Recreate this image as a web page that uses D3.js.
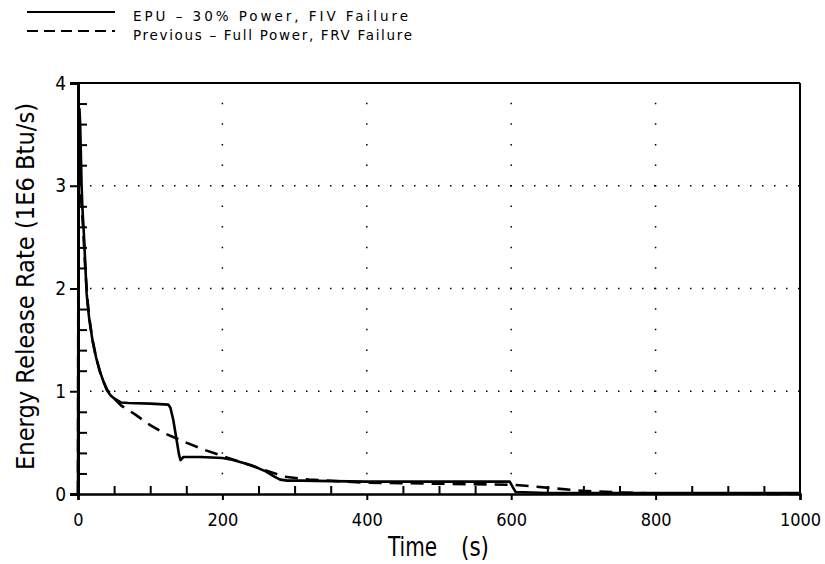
<!DOCTYPE html>
<html>
<head>
<meta charset="utf-8">
<script src="https://cdn.jsdelivr.net/npm/d3@7"></script>
<style>
  body{margin:0;background:#fff;}
</style>
</head>
<body>
<svg id="chart"></svg>
<script>
// EPU - 30% power, FIV failure (solid)
var epuTime=[0,0.5,1,2,3,4,5,6,8,10,12,14,16,20,25,30,35,40,45,50,60,70,100,125,128,132,136,140,142,146,170,200,215,240,260,272,280,290,310,350,400,500,598,602,606,650,700,1000];
var epuRate=[0,2.0,3.3,3.75,3.6,3.3,3.0,2.8,2.55,2.25,1.95,1.8,1.68,1.5,1.33,1.2,1.1,1.01,0.96,0.93,0.89,0.885,0.88,0.87,0.84,0.72,0.55,0.38,0.33,0.36,0.36,0.35,0.33,0.28,0.22,0.17,0.14,0.13,0.13,0.125,0.12,0.12,0.12,0.07,0.02,0.01,0.01,0.01];
// Previous - full power, FRV failure (dashed)
var prevTime=[0,0.5,1,2,3,5,7,10,13,16,20,25,30,35,40,50,60,80,100,120,150,175,200,230,260,285,320,400,500,600,620,660,700,750,800,1000];
var prevRate=[0,2.5,3.4,3.2,3.0,2.8,2.6,2.2,1.9,1.7,1.5,1.33,1.2,1.1,1.02,0.93,0.86,0.77,0.67,0.59,0.5,0.43,0.37,0.3,0.23,0.17,0.14,0.11,0.1,0.09,0.08,0.055,0.03,0.015,0.005,0];

var xTicks=[0,200,400,600,800,1000];
var yTicks=[0,1,2,3,4];
var xMinorTicks=[50,100,150,250,300,350,450,500,550,650,700,750,850,900,950];
var yMinorTicks=[0.2,0.4,0.6,0.8,1.2,1.4,1.6,1.8,2.2,2.4,2.6,2.8,3.2,3.4,3.6,3.8];
var legendLabels=["EPU \u2013 30% Power, FIV Failure","Previous \u2013 Full Power, FRV Failure"];

var svg=d3.select("#chart").attr("width",825).attr("height",564);

var xScale=d3.scaleLinear().domain([0,1000]).range([78,800]);
var yScale=d3.scaleLinear().domain([0,4]).range([494,83]);

var font="'Liberation Sans Narrow','DejaVu Sans Condensed',sans-serif";

// grid
svg.append("g").selectAll("line")
   .data(yTicks.slice(1,4))
   .enter().append("line")
   .attr("x1",xScale(0)+12).attr("x2",xScale(1000))
   .attr("y1",function(d){return yScale(d);})
   .attr("y2",function(d){return yScale(d);})
   .attr("stroke","#000").attr("stroke-width",1.5)
   .attr("stroke-dasharray","1.5,10.5");

var yStep=yScale(0)-yScale(0.2);
svg.append("g").selectAll("line")
   .data(xTicks.slice(1,5))
   .enter().append("line")
   .attr("x1",function(d){return xScale(d);})
   .attr("x2",function(d){return xScale(d);})
   .attr("y1",yScale(0.2)+0.75).attr("y2",yScale(4))
   .attr("stroke","#000").attr("stroke-width",1.5)
   .attr("stroke-dasharray","1.5,"+(yStep-1.5));

// frame
svg.append("line").attr("x1",xScale(0)).attr("x2",xScale(1000)).attr("y1",yScale(4)).attr("y2",yScale(4))
   .attr("stroke","#000").attr("stroke-width",2);
svg.append("line").attr("x1",xScale(1000)).attr("x2",xScale(1000)).attr("y1",yScale(4)).attr("y2",yScale(0))
   .attr("stroke","#000").attr("stroke-width",2);

// minor ticks (inward)
var gxm=svg.append("g").attr("transform","translate(0,"+yScale(0)+")")
   .call(d3.axisBottom(xScale).tickValues(xMinorTicks).tickSize(-8).tickFormat(""));
gxm.select(".domain").remove();
gxm.selectAll(".tick line").attr("stroke","#000").attr("stroke-width",2);

var gym=svg.append("g").attr("transform","translate("+xScale(0)+",0)")
   .call(d3.axisLeft(yScale).tickValues(yMinorTicks).tickSize(-9).tickFormat(""));
gym.select(".domain").remove();
gym.selectAll(".tick line").attr("stroke","#000").attr("stroke-width",2);

// axes
var xAxis=d3.axisBottom(xScale).tickValues(xTicks).tickSize(6).tickPadding(13).tickFormat(d3.format("d"));
var gx=svg.append("g").attr("transform","translate(0,"+yScale(0)+")").call(xAxis);
gx.select(".domain").attr("stroke-width",2.5);
gx.selectAll(".tick line").attr("stroke-width",2);
gx.selectAll("text").attr("font-family",font).attr("font-size",18);

var yAxis=d3.axisLeft(yScale).tickValues(yTicks).tickSize(8).tickPadding(4).tickFormat(d3.format("d"));
var gy=svg.append("g").attr("transform","translate("+xScale(0)+",0)").call(yAxis);
gy.select(".domain").attr("stroke-width",3);
gy.selectAll(".tick line").attr("stroke-width",2);
gy.selectAll("text").attr("font-family",font).attr("font-size",19);

// series
var line=d3.line()
  .x(function(d){return xScale(d[0]);})
  .y(function(d){return yScale(d[1]);});

svg.append("path")
   .datum(d3.zip(prevTime,prevRate))
   .attr("d",line).attr("fill","none")
   .attr("stroke","#000").attr("stroke-width",2.6)
   .attr("stroke-dasharray","13,8");

svg.append("path")
   .datum(d3.zip(epuTime,epuRate))
   .attr("d",line).attr("fill","none")
   .attr("stroke","#000").attr("stroke-width",2.6)
   .attr("stroke-linejoin","round");

// axis titles
svg.append("text").attr("x",388).attr("y",556)
   .attr("font-family",font).attr("font-size",26)
   .attr("textLength",49).attr("lengthAdjust","spacingAndGlyphs")
   .text("Time");
svg.append("text").attr("x",461).attr("y",556)
   .attr("font-family",font).attr("font-size",26)
   .attr("textLength",28).attr("lengthAdjust","spacingAndGlyphs")
   .text("(s)");
svg.append("text")
   .attr("transform","translate(34,470) rotate(-90)")
   .attr("font-family",font).attr("font-size",25)
   .attr("textLength",367).attr("lengthAdjust","spacingAndGlyphs")
   .text("Energy Release Rate (1E6 Btu/s)");

// legend
var legend=svg.append("g").classed("legend",true);
var legendLines=legend.selectAll("g").data(legendLabels).enter().append("g")
   .attr("transform",function(d,i){return "translate(0,"+(i*19)+")";});
legendLines.append("line")
   .attr("x1",27).attr("x2",115).attr("y1",12).attr("y2",12)
   .attr("stroke","#000").attr("stroke-width",2)
   .attr("stroke-dasharray",function(d,i){return i==0?null:"11,6";});
legendLines.append("text")
   .attr("x",133).attr("y",21)
   .attr("font-family","'DejaVu Sans',sans-serif").attr("font-size",13.5)
   .attr("textLength",function(d,i){return i==0?275:279;})
   .attr("lengthAdjust","spacing")
   .text(function(d){return d;});
</script>
</body>
</html>
